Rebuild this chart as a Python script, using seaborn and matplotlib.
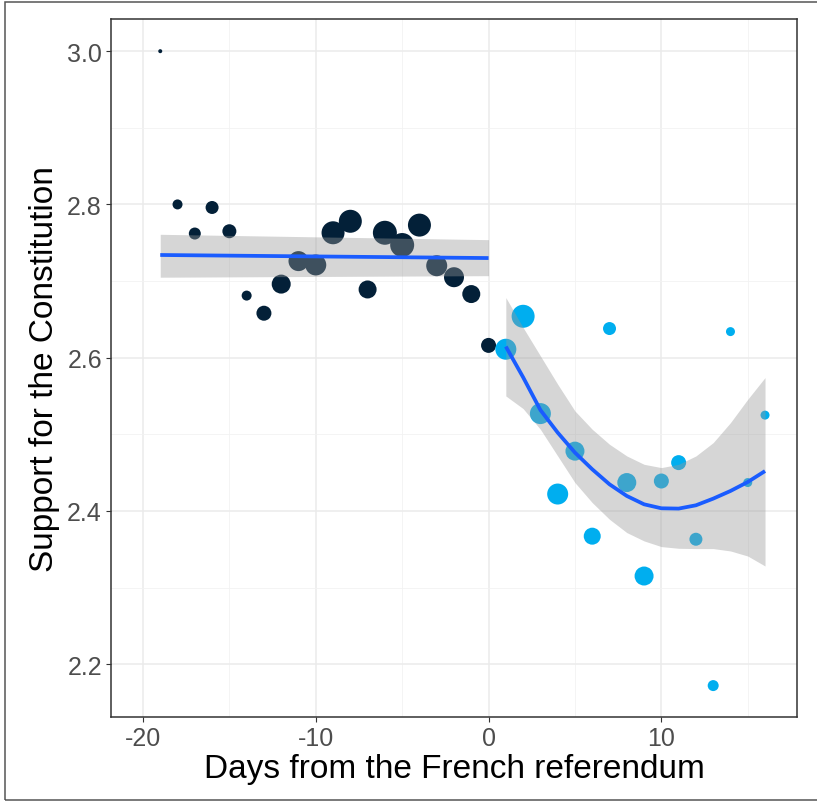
import numpy as np
import pandas as pd
import matplotlib
matplotlib.use("Agg")
import matplotlib.pyplot as plt
import seaborn as sns
from matplotlib.patches import Rectangle

# days relative to the referendum, mean support, respondents (point size)
days_before = [-19, -18, -17, -16, -15, -14, -13, -12, -11, -10,
               -9, -8, -7, -6, -5, -4, -3, -2, -1, 0]
support_before = [3.000, 2.800, 2.762, 2.796, 2.765, 2.681, 2.658, 2.696, 2.726, 2.721,
                  2.763, 2.778, 2.689, 2.763, 2.747, 2.773, 2.720, 2.705, 2.683, 2.616]
n_before = [16, 100, 144, 169, 196, 100, 225, 361, 400, 441,
            529, 529, 324, 576, 576, 529, 441, 400, 324, 225]

days_after = [1, 2, 3, 4, 5, 6, 7, 8, 9, 10, 11, 12, 13, 14, 15, 16]
support_after = [2.611, 2.654, 2.527, 2.422, 2.478, 2.367, 2.638, 2.437,
                 2.315, 2.439, 2.463, 2.363, 2.172, 2.634, 2.437, 2.525]
n_after = [441, 529, 441, 441, 361, 289, 169, 361,
           361, 225, 225, 169, 121, 81, 81, 81]

# smoothers (linear fit before, loess after) with 95% band
smooth_days_before = [-19, 0]
smooth_before = [2.734, 2.730]
smooth_lo_before = [2.705, 2.707]
smooth_hi_before = [2.761, 2.754]

smooth_days_after = days_after
smooth_after = [2.6145, 2.5744, 2.5317, 2.5022, 2.4761, 2.4543, 2.4347, 2.4195,
                2.4086, 2.4034, 2.4030, 2.4073, 2.4160, 2.4260, 2.4377, 2.4520]
smooth_lo_after = [2.5500, 2.5335, 2.5065, 2.4717, 2.4369, 2.4108, 2.3890, 2.3717,
                   2.3608, 2.3534, 2.3512, 2.3508, 2.3508, 2.3477, 2.3411, 2.3281]
smooth_hi_after = [2.6784, 2.6393, 2.6023, 2.5653, 2.5304, 2.5065, 2.4869, 2.4717,
                   2.4608, 2.4565, 2.4608, 2.4717, 2.4891, 2.5152, 2.5457, 2.5740]

x_ticks = [-20, -10, 0, 10]
y_ticks = [2.2, 2.4, 2.6, 2.8, 3.0]

df = pd.DataFrame({
    "day": days_before + days_after,
    "support": support_before + support_after,
    "n": n_before + n_after,
    "period": ["before"] * len(days_before) + ["after"] * len(days_after),
})

fig = plt.figure(figsize=(8.17, 8.03), dpi=100)
ax = fig.add_axes([111 / 817, 1 - 718 / 803, 686 / 817, 698 / 803])

sns.scatterplot(data=df, x="day", y="support", hue="period",
                palette={"before": "#032038", "after": "#00aeef"},
                size="n", sizes=(min(df["n"]) * 0.518, max(df["n"]) * 0.518),
                size_norm=(min(df["n"]), max(df["n"])),
                linewidth=0, legend=False, ax=ax, zorder=2)

smooths = [
    (smooth_days_before, smooth_before, smooth_lo_before, smooth_hi_before),
    (smooth_days_after, smooth_after, smooth_lo_after, smooth_hi_after),
]
for g, f, lo, hi in smooths:
    ax.fill_between(g, lo, hi, color="#999999", alpha=0.4, linewidth=0, zorder=3)
    ax.plot(g, f, color="#1a5cff", lw=2.7, zorder=4, solid_capstyle="butt",
            solid_joinstyle="round")

ax.set_xlim(-21.85, 17.85)
ax.set_ylim(2.131, 3.042)
ax.set_xticks(x_ticks)
ax.set_xticklabels([str(v) for v in x_ticks])
ax.set_yticks(y_ticks)
ax.set_yticklabels([f"{v:.1f}" for v in y_ticks])
ax.set_xticks([-15, -5, 5, 15], minor=True)
ax.set_yticks([2.3, 2.5, 2.7, 2.9], minor=True)
ax.grid(which="major", color="#ebebeb", lw=1.1, zorder=0)
ax.grid(which="minor", color="#f2f2f2", lw=0.6, zorder=0)
ax.set_axisbelow(True)
ax.tick_params(which="major", length=3.5, width=0.8, color="#333333",
               labelsize=18, labelcolor="#4d4d4d", pad=3)
ax.tick_params(which="minor", length=0)
for s in ax.spines.values():
    s.set_color("#333333")
    s.set_linewidth(1.1)

ax.set_xlabel("Days from the French referendum", fontsize=24, color="black",
              fontfamily="Liberation Sans", labelpad=2)
ax.set_ylabel("Support for the Constitution", fontsize=24, color="black",
              fontfamily="Liberation Sans", labelpad=5)
for lab in ax.get_xticklabels() + ax.get_yticklabels():
    lab.set_fontfamily("Liberation Sans")

fig.add_artist(Rectangle((4.5 / 817, 2 / 803), 1.1, 798 / 803, transform=fig.transFigure,
                         fill=False, edgecolor="#555555", lw=1.1, clip_on=False))

fig.savefig("out.png", dpi=100)
